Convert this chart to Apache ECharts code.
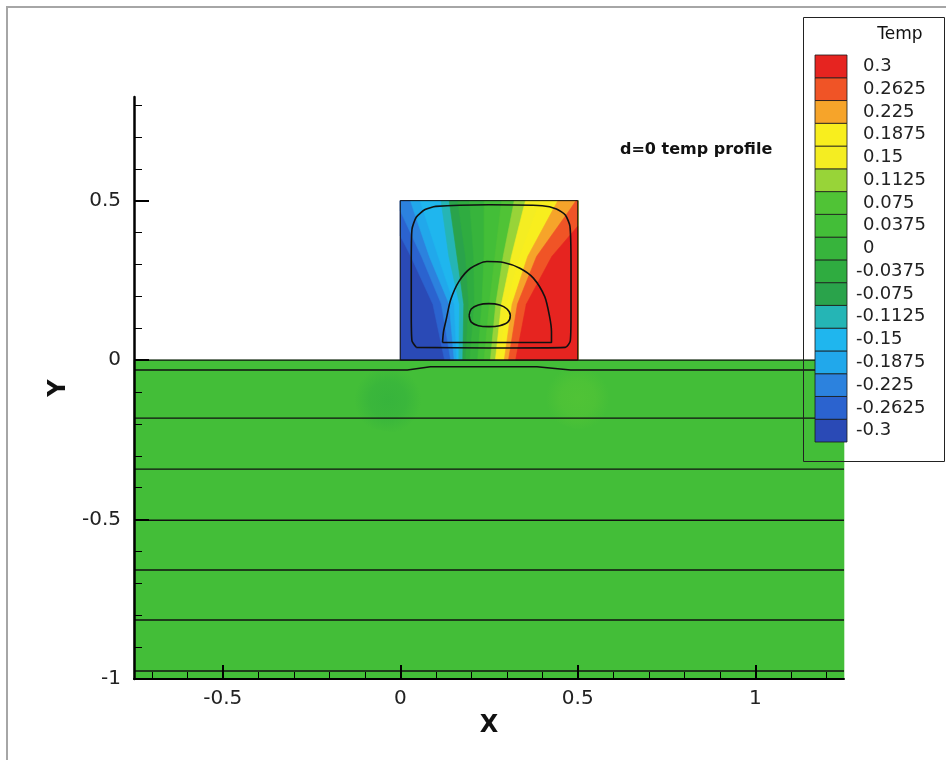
<!DOCTYPE html>
<html>
<head>
<meta charset="utf-8">
<script src="https://cdn.jsdelivr.net/npm/echarts@6/dist/echarts.min.js"></script>
<style>
html, body { margin: 0; padding: 0; background: #fff; }
#chart { width: 946px; height: 760px; }
</style>
</head>
<body>
<div id="chart"></div>
<script>
// ---- Contour levels of Temp (ascending) and their flood colours ----
const levels = [-0.3, -0.2625, -0.225, -0.1875, -0.15, -0.1125, -0.075, -0.0375, 0,
                0.0375, 0.075, 0.1125, 0.15, 0.1875, 0.225, 0.2625, 0.3];
const levelColors = ['#2a4ab6', '#2b63cf', '#2c82de', '#21a8eb', '#1fb6ee', '#25b5b5',
                     '#2aa34b', '#2fac40', '#37b43c', '#43be38', '#50c336', '#98d438',
                     '#f4ed22', '#f8ee1e', '#f6a42a', '#f05426', '#e62420'];

// ---- Geometry of the domain ----
const slabX = [-0.75, 1.25];
const slabY = [-1, 0];
const blockX = [0, 0.5];
const blockY = [0, 0.5];
const slabLevel = 0.0375;
const blockBaseLevel = -0.3;

// Slightly cooler / warmer zones in the slab just under the block (soft-edged)
const coolPatch = [[-0.2, -0.1], [-0.13, -0.035], [-0.02, -0.02], [0.09, -0.045], [0.13, -0.11],
                   [0.1, -0.19], [0.0, -0.23], [-0.11, -0.21], [-0.19, -0.16]];
const warmPatch = [[0.35, -0.07], [0.42, -0.025], [0.53, -0.02], [0.62, -0.055], [0.66, -0.12],
                   [0.62, -0.19], [0.5, -0.22], [0.4, -0.18], [0.34, -0.12]];
const softPatchLevels = [0, 0.075];

// Isotherms inside the block: boundary between levels[k-1] and levels[k]
// (each polyline runs from the block bottom to its top / side edge)
const isotherms = [
  [[0.125, 0], [0.092, 0.175], [0.03, 0.325], [0, 0.39]],
  [[0.142, 0], [0.116, 0.175], [0.06, 0.325], [0, 0.468]],
  [[0.152, 0], [0.138, 0.175], [0.082, 0.325], [0.036, 0.475], [0.029, 0.5]],
  [[0.159, 0], [0.152, 0.175], [0.107, 0.325], [0.063, 0.475], [0.056, 0.5]],
  [[0.165, 0], [0.167, 0.175], [0.137, 0.325], [0.118, 0.475], [0.115, 0.5]],
  [[0.176, 0], [0.179, 0.175], [0.16, 0.325], [0.141, 0.475], [0.138, 0.5]],
  [[0.184, 0], [0.193, 0.175], [0.184, 0.325], [0.165, 0.475], [0.162, 0.5]],
  [[0.196, 0], [0.209, 0.175], [0.207, 0.325], [0.197, 0.475], [0.195, 0.5]],
  [[0.218, 0], [0.23, 0.175], [0.236, 0.325], [0.236, 0.475], [0.236, 0.5]],
  [[0.236, 0], [0.251, 0.175], [0.267, 0.325], [0.283, 0.475], [0.286, 0.5]],
  [[0.254, 0], [0.269, 0.175], [0.29, 0.325], [0.317, 0.475], [0.321, 0.5]],
  [[0.268, 0], [0.285, 0.175], [0.313, 0.325], [0.347, 0.475], [0.353, 0.5]],
  [[0.28, 0], [0.3, 0.175], [0.337, 0.325], [0.386, 0.475], [0.394, 0.5]],
  [[0.293, 0], [0.315, 0.175], [0.359, 0.325], [0.432, 0.475], [0.444, 0.5]],
  [[0.305, 0], [0.33, 0.175], [0.384, 0.325], [0.48, 0.475], [0.495, 0.5]],
  [[0.325, 0], [0.355, 0.175], [0.427, 0.325], [0.5, 0.42]]
];

// ---- Line contours ----
const outerLoop = [[0.045, 0.04], [0.033, 0.06], [0.031, 0.15], [0.031, 0.3], [0.033, 0.41],
                   [0.045, 0.448], [0.07, 0.472], [0.1, 0.482], [0.25, 0.487], [0.4, 0.484],
                   [0.44, 0.474], [0.465, 0.455], [0.478, 0.42], [0.481, 0.3], [0.481, 0.15],
                   [0.479, 0.06], [0.465, 0.04], [0.25, 0.038], [0.045, 0.04]];
const archLoop = [[0.119, 0.055], [0.122, 0.09], [0.13, 0.13], [0.142, 0.189], [0.165, 0.246],
                  [0.198, 0.288], [0.244, 0.309], [0.291, 0.306], [0.337, 0.288], [0.375, 0.257],
                  [0.407, 0.199], [0.42, 0.14], [0.426, 0.09], [0.426, 0.055], [0.119, 0.055]];
const eggLoop = [[0.194, 0.14], [0.2, 0.16], [0.22, 0.173], [0.25, 0.177], [0.28, 0.173],
                 [0.3, 0.161], [0.31, 0.141], [0.303, 0.119], [0.28, 0.108], [0.25, 0.105],
                 [0.22, 0.108], [0.2, 0.119], [0.194, 0.14]];
const interfaceLine = [[-0.75, -0.031], [0.02, -0.031], [0.085, -0.021], [0.385, -0.021],
                       [0.48, -0.031], [1.25, -0.031]];
const slabLineY = [-0.182, -0.342, -0.502, -0.658, -0.815, -0.975];

// ---- Axis ticks ----
const xMajor = [-0.5, 0, 0.5, 1];
const xMinor = [-0.7, -0.6, -0.4, -0.3, -0.2, -0.1, 0.1, 0.2, 0.3, 0.4, 0.6, 0.7, 0.8, 0.9, 1.1, 1.2];
const yMajor = [-1, -0.5, 0, 0.5];
const yMinor = [-0.9, -0.8, -0.7, -0.6, -0.4, -0.3, -0.2, -0.1, 0.1, 0.2, 0.3, 0.4, 0.6, 0.7, 0.8];

const FONT = "'DejaVu Sans', 'Liberation Sans', sans-serif";

function colorOf(level) {
  let best = 0;
  levels.forEach((v, i) => { if (Math.abs(v - level) < Math.abs(levels[best] - level)) best = i; });
  return levelColors[best];
}

function withAlpha(hex, a) {
  const n = parseInt(hex.slice(1), 16);
  return 'rgba(' + (n >> 16) + ',' + ((n >> 8) & 255) + ',' + (n & 255) + ',' + a + ')';
}

function rectPts(xr, yr) {
  return [[xr[0], yr[0]], [xr[0], yr[1]], [xr[1], yr[1]], [xr[1], yr[0]]];
}

// Region of the block lying to the right of an isotherm, closed clockwise
function rightOf(line) {
  const pts = line.slice();
  const end = line[line.length - 1];
  const TL = [blockX[0], blockY[1]], TR = [blockX[1], blockY[1]], BR = [blockX[1], blockY[0]];
  if (end[0] <= blockX[0]) pts.push(TL, TR, BR);
  else if (end[1] >= blockY[1]) pts.push(TR, BR);
  else pts.push(BR);
  return pts;
}

// Flooded regions, painted in order
const regions = [];
regions.push({ level: slabLevel, pts: rectPts(slabX, slabY) });
regions.push({ level: softPatchLevels[0], pts: coolPatch, soft: true });
regions.push({ level: softPatchLevels[1], pts: warmPatch, soft: true });
regions.push({ level: blockBaseLevel, pts: rectPts(blockX, blockY) });
isotherms.forEach((line, k) => regions.push({ level: levels[k + 1], pts: rightOf(line) }));

function lineSeries(data, width, smooth) {
  return {
    type: 'line', data: data, xAxisIndex: 0, yAxisIndex: 0,
    symbol: 'none', silent: true, z: 3, smooth: smooth || false,
    lineStyle: { color: '#111', width: width }
  };
}

const chart = echarts.init(document.getElementById('chart'), null, { renderer: 'canvas' });

const series = [
  {
    type: 'custom', xAxisIndex: 0, yAxisIndex: 0, z: 1, silent: true,
    data: regions.map((r, i) => [i, r.level]),
    renderItem: function (params, api) {
      const r = regions[api.value(0)];
      const c = colorOf(r.level);
      const style = r.soft
        ? {
            fill: new echarts.graphic.RadialGradient(0.5, 0.5, 0.5, [
              { offset: 0, color: withAlpha(c, 1) },
              { offset: 0.55, color: withAlpha(c, 0.75) },
              { offset: 1, color: withAlpha(c, 0) }
            ])
          }
        : { fill: c, stroke: c, lineWidth: 0.6 };
      return {
        type: 'polygon',
        shape: { points: r.pts.map(p => api.coord(p)) },
        style: style
      };
    }
  },
  lineSeries(rectPts(blockX, blockY).concat([[blockX[0], blockY[0]]]), 1),
  lineSeries([[slabX[0], 0], [slabX[1], 0]], 1.4),
  lineSeries(outerLoop, 1.6, 0.2),
  lineSeries(archLoop, 1.6, 0.25),
  lineSeries(eggLoop, 1.6, 0.35),
  lineSeries(interfaceLine, 1.4)
];
slabLineY.forEach(y => series.push(lineSeries([[slabX[0], y], [slabX[1], y]], 1.4)));

// Colour legend bar
series.push({
  type: 'custom', xAxisIndex: 2, yAxisIndex: 2, silent: true, z: 5,
  data: levels.map((v, i) => [0, i, v]),
  renderItem: function (params, api) {
    const c = api.coord([0, api.value(1)]);
    const s = api.size([1, 1]);
    return {
      type: 'rect',
      shape: { x: c[0] - s[0] / 2, y: c[1] - s[1] / 2, width: s[0], height: s[1] },
      style: { fill: colorOf(api.value(2)), stroke: '#1a1a1a', lineWidth: 0.8 }
    };
  }
});

const tickLabelStyle = { fontFamily: FONT, fontSize: 20, color: '#222' };

chart.setOption({
  animation: false,
  backgroundColor: '#fff',
  grid: [
    { left: 134, top: 97, width: 710, height: 582 },
    { left: 815, top: 55, width: 32, height: 387 }
  ],
  xAxis: [
    {
      type: 'value', gridIndex: 0, min: slabX[0], max: slabX[1], position: 'bottom', z: 10,
      axisLine: { onZero: false, lineStyle: { color: '#000', width: 2 } },
      axisTick: { inside: true, length: 14, customValues: xMajor, lineStyle: { color: '#000', width: 2 } },
      axisLabel: Object.assign({ customValues: xMajor, margin: 10 }, tickLabelStyle),
      splitLine: { show: false },
      name: 'X', nameLocation: 'middle', nameGap: 23,
      nameTextStyle: { fontFamily: FONT, fontSize: 24, fontWeight: 'bold', color: '#111' }
    },
    {
      type: 'value', gridIndex: 0, min: slabX[0], max: slabX[1], position: 'bottom', z: 10,
      axisLine: { show: false, onZero: false },
      axisTick: { inside: true, length: 7, customValues: xMinor, lineStyle: { color: '#000', width: 1 } },
      axisLabel: { show: false },
      splitLine: { show: false }
    },
    {
      type: 'category', gridIndex: 1, data: ['Temp'], show: false
    }
  ],
  yAxis: [
    {
      type: 'value', gridIndex: 0, min: slabY[0], max: 0.825, position: 'left', z: 10,
      axisLine: { onZero: false, lineStyle: { color: '#000', width: 2.5 } },
      axisTick: { inside: true, length: 15, customValues: yMajor, lineStyle: { color: '#000', width: 2 } },
      axisLabel: Object.assign({ customValues: yMajor, margin: 13 }, tickLabelStyle),
      splitLine: { show: false },
      name: 'Y', nameLocation: 'middle', nameGap: 54, nameRotate: 90,
      nameTextStyle: { fontFamily: FONT, fontSize: 24, fontWeight: 'bold', color: '#111' }
    },
    {
      type: 'value', gridIndex: 0, min: slabY[0], max: 0.825, position: 'left', z: 10,
      axisLine: { show: false, onZero: false },
      axisTick: { inside: true, length: 8, customValues: yMinor, lineStyle: { color: '#000', width: 1 } },
      axisLabel: { show: false },
      splitLine: { show: false }
    },
    {
      type: 'category', gridIndex: 1, position: 'right',
      data: levels.map(v => String(v)),
      axisLine: { show: false }, axisTick: { show: false }, splitLine: { show: false },
      axisLabel: {
        interval: 0, margin: 9, fontFamily: FONT, fontSize: 18, color: '#222',
        formatter: v => (v.charAt(0) === '-' ? '{n|' + v + '}' : '{p|' + v + '}'),
        rich: {
          n: { fontFamily: FONT, fontSize: 18, color: '#222' },
          p: { fontFamily: FONT, fontSize: 18, color: '#222', padding: [0, 0, 0, 7] }
        }
      }
    }
  ],
  graphic: [
    {
      type: 'rect', z: 100, silent: true,
      shape: { x: 7, y: 7, width: 960, height: 780 },
      style: { fill: 'none', stroke: '#a6a6a6', lineWidth: 2 }
    },
    {
      type: 'rect', z: 100, silent: true,
      shape: { x: 803.5, y: 17.5, width: 141, height: 444 },
      style: { fill: 'none', stroke: '#222', lineWidth: 1 }
    },
    {
      type: 'text', z: 100, silent: true,
      style: {
        text: 'Temp', x: 900, y: 35, fill: '#111', font: '17px ' + FONT,
        textAlign: 'center', textVerticalAlign: 'middle', align: 'center', verticalAlign: 'middle'
      }
    },
    {
      type: 'text', z: 100, silent: true,
      style: {
        text: 'd=0 temp profile', x: 620, y: 150, fill: '#111', font: 'bold 16px ' + FONT,
        textAlign: 'left', textVerticalAlign: 'middle', align: 'left', verticalAlign: 'middle'
      }
    }
  ],
  series: series
});
</script>
</body>
</html>
